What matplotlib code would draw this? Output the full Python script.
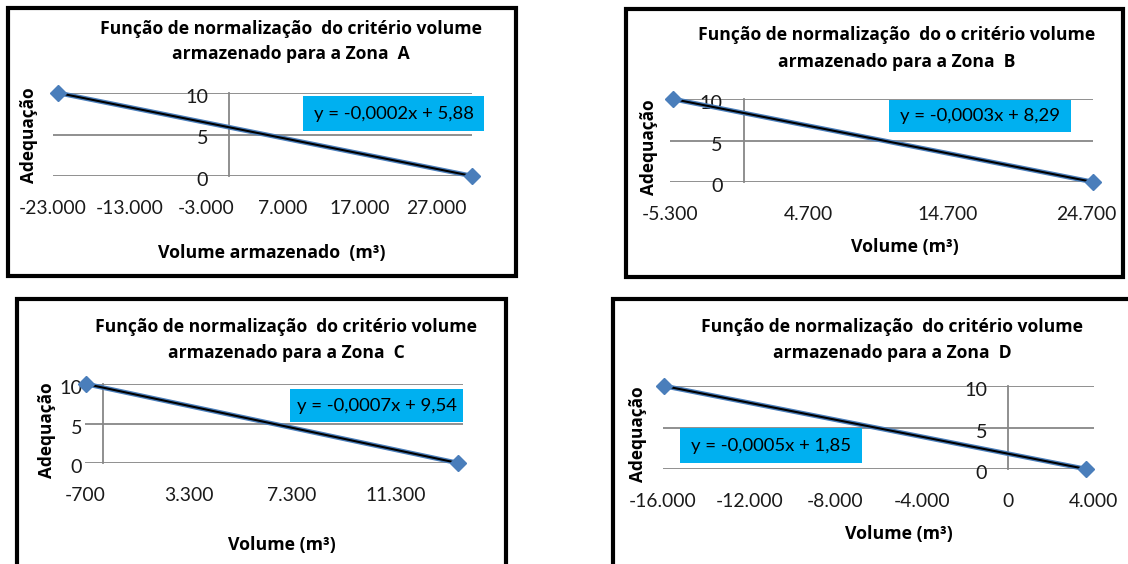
import matplotlib
matplotlib.use("Agg")
import matplotlib.pyplot as plt
import matplotlib.transforms as mtransforms
from matplotlib.patches import Rectangle
from matplotlib.ticker import FuncFormatter, FixedLocator

plt.rcParams['font.family'] = ['Lato', 'DejaVu Sans']
BOLD_FAMILY = ['Open Sans', 'DejaVu Sans']

# ---------------- data ----------------
zones = ["A", "B", "C", "D"]
titles = [
    "Função de normalização  do critério volume\narmazenado para a Zona  A",
    "Função de normalização  do o critério volume\narmazenado para a Zona  B",
    "Função de normalização  do critério volume\narmazenado para a Zona  C",
    "Função de normalização  do critério volume\narmazenado para a Zona  D",
]
xlabels = ["Volume armazenado  (m³)", "Volume (m³)", "Volume (m³)", "Volume (m³)"]
ylabel = "Adequação"
equations = ["y = -0,0002x + 5,88", "y = -0,0003x + 8,29",
             "y = -0,0007x + 9,54", "y = -0,0005x + 1,85"]

x_A = [-22300, 31700]
x_B = [-5100, 25200]
x_C = [-660, 13700]
x_D = [-15950, 3620]
y_vals = [10, 0]

xticks_A = [-23000, -13000, -3000, 7000, 17000, 27000]
xticks_B = [-5300, 4700, 14700, 24700]
xticks_C = [-700, 3300, 7300, 11300]
xticks_D = [-16000, -12000, -8000, -4000, 0, 4000]
yticks = [0, 5, 10]

xlims = [(-23000, 31700), (-5300, 25200), (-700, 13900), (-16000, 4000)]

# ---------------- layout (pixels) ----------------
W, H = 1128, 564
fig = plt.figure(figsize=(W / 100, H / 100), dpi=100)
fig.patch.set_facecolor("white")


def fx(x):
    return x / W


def fy(y):
    return 1 - y / H


panels = [
    dict(x=x_A, ticks=xticks_A, plot=(53, 472, 93, 176), border=(8, 516, 8, 276),
         title=(291, 29, 54), ylab=(29, 135), xlab=(272, 253), eq=(303, 484, 96, 131)),
    dict(x=x_B, ticks=xticks_B, plot=(670, 1093, 99, 182), border=(626, 1123, 9, 277),
         title=(897, 35, 62), ylab=(649, 147), xlab=(905, 247), eq=(889, 1071, 100, 132)),
    dict(x=x_C, ticks=xticks_C, plot=(85, 463, 384, 463), border=(17, 506, 299, 600),
         title=(286, 327, 353), ylab=(47, 430), xlab=(282, 545), eq=(290, 463, 389, 422)),
    dict(x=x_D, ticks=xticks_D, plot=(663, 1094, 386, 469), border=(613, 1140, 299, 600),
         title=(892, 327, 353), ylab=(638, 434), xlab=(899, 534), eq=(680, 862, 428, 463)),
]

grid_col = "#878787"
blue = "#4A7EBB"
cyan = "#00B0F0"


def thousands(v, pos):
    s = f"{abs(v):,.0f}".replace(",", ".")
    return ("-" if v < 0 else "") + s


shift = mtransforms.ScaledTranslation(0, -3 / 100, fig.dpi_scale_trans)

for i, p in enumerate(panels):
    # border
    bl, br, bt, bb = p["border"]
    fig.patches.append(Rectangle((fx(bl), fy(bb)), (br - bl) / W, (bb - bt) / H,
                                 transform=fig.transFigure, fill=False,
                                 edgecolor="black", linewidth=3.0, zorder=0))
    l, r, t, b = p["plot"]
    ax = fig.add_axes([fx(l), fy(b), (r - l) / W, (b - t) / H])
    ax.set_facecolor("none")
    ax.set_xlim(*xlims[i])
    ax.set_ylim(0, 10)
    for s in ["top", "right", "bottom"]:
        ax.spines[s].set_visible(False)
    ax.spines["left"].set_position(("data", 0))
    ax.spines["left"].set_color(grid_col)
    ax.spines["left"].set_linewidth(1.3)
    ax.xaxis.set_major_locator(FixedLocator(p["ticks"]))
    ax.xaxis.set_major_formatter(FuncFormatter(thousands))
    ax.set_yticks(yticks)
    ax.yaxis.grid(True, color=grid_col, linewidth=1.3)
    ax.set_axisbelow(True)
    ax.tick_params(axis="x", length=0, pad=17, labelsize=13.9, colors="#1a1a1a")
    ax.tick_params(axis="y", length=0, pad=15, labelsize=14.2, colors="#1a1a1a")
    for lab in ax.get_yticklabels():
        lab.set_transform(lab.get_transform() + shift)
    ax.plot(p["x"], y_vals, color=blue, linewidth=3.4, clip_on=False, zorder=3)
    ax.plot(p["x"], y_vals, color="black", linewidth=1.5, clip_on=False, zorder=4)
    ax.plot(p["x"], y_vals, linestyle="none", marker="D", markersize=8.5,
            color=blue, clip_on=False, zorder=5)

    # title
    tx, ty1, ty2 = p["title"]
    l1, l2 = titles[i].split("\n")
    fig.text(fx(tx), fy(ty1), l1, ha="center", va="center", fontsize=12.6,
             fontweight="bold", family=BOLD_FAMILY, color="black")
    fig.text(fx(tx), fy(ty2), l2, ha="center", va="center", fontsize=12.6,
             fontweight="bold", family=BOLD_FAMILY, color="black")
    # y label
    yx, yy = p["ylab"]
    fig.text(fx(yx), fy(yy), ylabel, rotation=90, ha="center", va="center",
             fontsize=12.4, fontweight="bold", family=BOLD_FAMILY, color="black")
    # x label
    xx, xy = p["xlab"]
    fig.text(fx(xx), fy(xy), xlabels[i], ha="center", va="center",
             fontsize=12.8, fontweight="bold", family=BOLD_FAMILY, color="black")
    # equation box
    el, er, et, eb = p["eq"]
    fig.patches.append(Rectangle((fx(el), fy(eb)), (er - el) / W, (eb - et) / H,
                                 transform=fig.transFigure, facecolor=cyan,
                                 edgecolor="none", zorder=6))
    fig.text(fx((el + er) / 2), fy((et + eb) / 2), equations[i], ha="center",
             va="center", fontsize=13.3, color="black", zorder=7)

fig.savefig("out.png", dpi=100)
